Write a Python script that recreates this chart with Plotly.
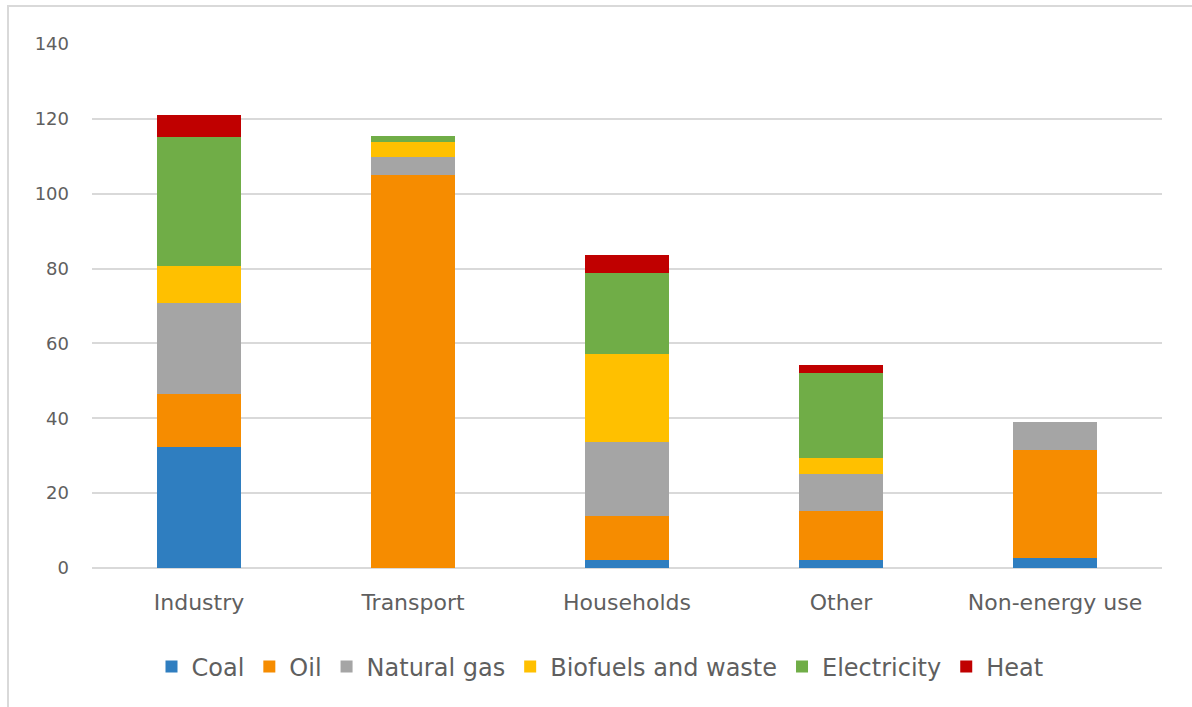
import plotly.graph_objects as go

categories = ["Industry", "Transport", "Households", "Other", "Non-energy use"]
coal = [32.2, 0, 2.1, 2.1, 2.8]
oil = [14.3, 105.0, 11.8, 13.1, 28.7]
natural_gas = [24.4, 4.9, 19.8, 9.9, 7.6]
biofuels = [9.9, 3.9, 23.4, 4.2, 0]
electricity = [34.4, 1.7, 21.8, 22.8, 0]
heat = [5.9, 0, 4.8, 2.2, 0]
y_ticks = [0, 20, 40, 60, 80, 100, 120, 140]

series = [
    ("Coal", coal, "#2F7EC0"),
    ("Oil", oil, "#F68C00"),
    ("Natural gas", natural_gas, "#A5A5A5"),
    ("Biofuels and waste", biofuels, "#FFC000"),
    ("Electricity", electricity, "#70AD47"),
    ("Heat", heat, "#C00000"),
]

fig = go.Figure()
for name, vals, color in series:
    fig.add_trace(go.Bar(x=categories, y=vals, name=name, marker_color=color,
                         marker_line_width=0))

W, H = 1192, 707
L, R, T, B = 92, 30, 44, 139
pw, ph = W - L - R, H - T - B

def px(x):
    return (x - L) / pw

def py(y):
    return (H - B - y) / ph

FONT = "DejaVu Sans, Verdana, sans-serif"
TXT = "#5F5F5F"

fig.update_layout(
    barmode="stack",
    bargap=0.61,
    width=W, height=H,
    margin=dict(l=L, r=R, t=T, b=B),
    paper_bgcolor="white",
    plot_bgcolor="white",
    font=dict(family=FONT, color=TXT),
    xaxis=dict(showgrid=False, showline=False, ticks="",
               ticklabelstandoff=19,
               tickfont=dict(size=22, color=TXT)),
    yaxis=dict(range=[0, 140], tickvals=y_ticks, showgrid=True,
               gridcolor="#D9D9D9", gridwidth=1.5, zeroline=True,
               zerolinecolor="#D9D9D9", zerolinewidth=1.5, showline=False,
               ticks="", ticklabelstandoff=22,
               tickfont=dict(size=18, color=TXT)),
    legend=dict(orientation="h", x=px(600), xanchor="center", y=py(667),
                yanchor="middle", font=dict(size=24, color=TXT),
                itemwidth=30, traceorder="normal", itemsizing="constant"),
    showlegend=True,
    shapes=[
        dict(type="line", xref="paper", yref="paper", x0=px(7), x1=px(1192),
             y0=py(6), y1=py(6), line=dict(color="#D9D9D9", width=2)),
        dict(type="line", xref="paper", yref="paper", x0=px(8), x1=px(8),
             y0=py(6), y1=py(707), line=dict(color="#D9D9D9", width=2)),
    ],
)

fig.write_html("out.html")
